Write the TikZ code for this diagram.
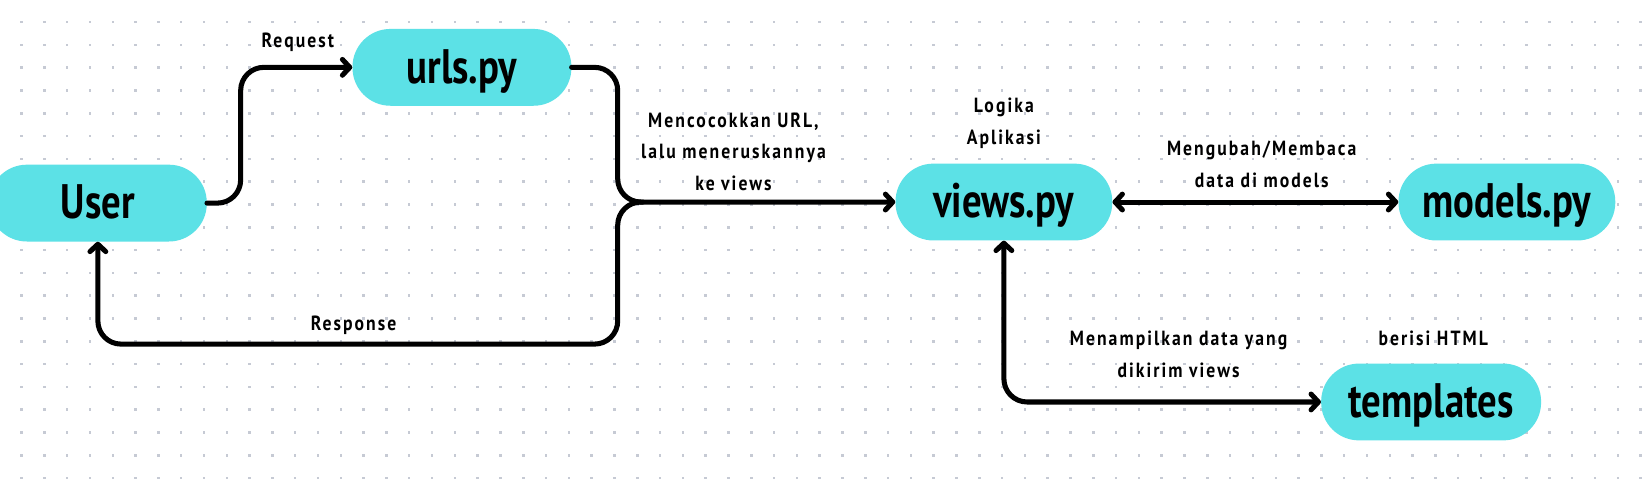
\documentclass[tikz,border=0pt]{standalone}
\usepackage{fontspec}
\setmainfont{PT Sans}
\newfontfamily\bigfont{PT Sans}[FakeStretch=0.8]
\newfontfamily\smallfont{PT Sans}[FakeStretch=0.86, LetterSpace=10]
\usetikzlibrary{arrows.meta,calc}
\definecolor{pillc}{HTML}{5CE1E6}
\definecolor{dotc}{HTML}{C6CAD4}
\tikzset{
  pill/.style={fill=pillc, rounded corners=36pt, minimum height=73pt, inner sep=0pt,
    text height=40pt, text depth=10pt,
    font=\bigfont\bfseries\fontsize{46}{50}\selectfont},
  lbl/.style={align=center, inner sep=0pt, font=\smallfont\bfseries\fontsize{19.5}{30}\selectfont},
  conn/.style={line width=4.8pt, line cap=round, line join=round, rounded corners=22pt},
  tip/.tip={Straight Barb[round, length=7pt, width=15pt]}
}
\begin{document}
\begin{tikzpicture}[x=1pt,y=-1pt]
\useasboundingbox (0,0) rectangle (1568,468);
\fill[white] (0,0) rectangle (1568,468);
\foreach \i in {0,...,71}{
  \foreach \j in {0,...,21}{
    \fill[dotc] ({19.3+21.67*\i},{19.8+21.67*\j}) rectangle ++(2.4,2.4);
  }
}
% nodes
\node[pill, minimum width=207pt] (user) at (93,193) {User};
\node[pill, minimum width=208pt] (urls) at (439,64) {urls.py};
\node[pill, minimum width=206pt] (views) at (954,192) {views.py};
\node[pill, minimum width=206pt] (models) at (1432,192) {models.py};
\node[pill, minimum width=209pt] (tmpl) at (1360,382) {templates};
\coordinate (jn) at (587,192);
% connectors
\draw[conn, -tip] (user.east) -- ++(32,0) |- (urls.west);
\draw[conn, -tip] (urls.east) -| (jn) -- (views.west);
\draw[conn, -tip] ($(jn)+(24,0)$) -| ($(jn)+(0,135)$) -| (user.south);
\draw[conn, tip-tip] (views.east) -- (models.west);
\draw[conn, tip-tip] (views.south) |- (tmpl.west);
% labels
\node[lbl] (lreq) at (283,40) {Request};
\node[lbl] (lmatch) at (697,144) {Mencocokkan URL,\\lalu meneruskannya\\ke views};
\node[lbl] (lresp) at (336,309) {Response};
\node[lbl] (llog) at (954,117) {Logika\\Aplikasi};
\node[lbl] (lmod) at (1199,156) {Mengubah/Membaca\\data di models};
\node[lbl] (lshow) at (1120,337) {Menampilkan data yang\\dikirim views};
\node[lbl] (lhtml) at (1362,322) {berisi HTML};
\end{tikzpicture}
\end{document}
